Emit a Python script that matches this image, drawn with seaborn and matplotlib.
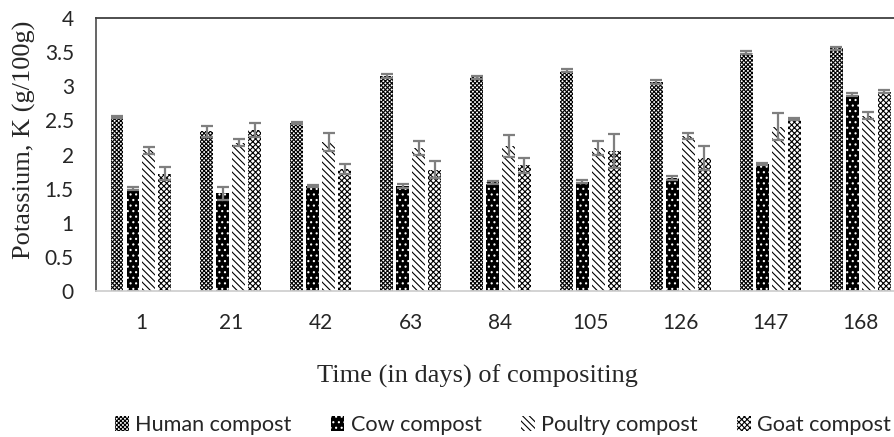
import matplotlib
matplotlib.use('Agg')
import matplotlib.pyplot as plt
import matplotlib.patches as mpatches
import seaborn as sns
import pandas as pd

days = ['1', '21', '42', '63', '84', '105', '126', '147', '168']
composts = ['Human compost', 'Cow compost', 'Poultry compost', 'Goat compost']

human = [2.55, 2.34, 2.46, 3.15, 3.13, 3.23, 3.06, 3.49, 3.555]
human_err = [0.02, 0.08, 0.02, 0.03, 0.02, 0.02, 0.025, 0.02, 0.02]
cow = [1.50, 1.43, 1.54, 1.54, 1.59, 1.60, 1.65, 1.86, 2.875]
cow_err = [0.02, 0.09, 0.02, 0.03, 0.02, 0.02, 0.03, 0.02, 0.02]
poultry = [2.06, 2.17, 2.18, 2.10, 2.13, 2.10, 2.27, 2.41, 2.57]
poultry_err = [0.05, 0.05, 0.13, 0.10, 0.16, 0.10, 0.05, 0.20, 0.05]
goat = [1.72, 2.36, 1.79, 1.78, 1.84, 2.05, 1.95, 2.52, 2.92]
goat_err = [0.09, 0.10, 0.07, 0.12, 0.11, 0.25, 0.17, 0.02, 0.02]

values = [human, cow, poultry, goat]
errors = [human_err, cow_err, poultry_err, goat_err]

rows = []
for name, vals in zip(composts, values):
    for d, v in zip(days, vals):
        rows.append({'day': d, 'compost': name, 'K': v})
df = pd.DataFrame(rows)

# look of each series: face, hatch colour, hatch
styles = {
    'Human compost': ('white', 'black', 'x' * 8),
    'Cow compost': ('black', 'white', '...'),
    'Poultry compost': ('white', 'black', '\\' * 5),
    'Goat compost': ('white', 'black', 'x' * 6),
}

sns.set_style('white')
plt.rcParams['font.family'] = ['Lato', 'DejaVu Sans']
plt.rcParams['hatch.linewidth'] = 0.8

fig = plt.figure(figsize=(8.94, 4.37), dpi=100)
ax = fig.add_axes([0.1074, 0.3341, 0.905, 0.6247])

sns.barplot(data=df, x='day', y='K', hue='compost', order=days,
            hue_order=composts, width=0.71, gap=0.19, errorbar=None,
            palette=['white'] * 4, legend=False, ax=ax)

for name, cont, errs in zip(composts, ax.containers, errors):
    face, hcol, hatch = styles[name]
    for bar in cont:
        bar.set_facecolor(face)
        bar.set_edgecolor(hcol)
        bar.set_hatch(hatch)
        bar.set_linewidth(0)
    xs = [b.get_x() + b.get_width() / 2 for b in cont]
    ys = [b.get_height() for b in cont]
    ax.errorbar(xs, ys, yerr=errs, fmt='none', ecolor='#7f7f7f',
                elinewidth=1.6, capsize=4.5, capthick=1.6, zorder=5)

ax.set_ylim(0, 4)
ax.set_yticks([0, 0.5, 1, 1.5, 2, 2.5, 3, 3.5, 4])
ax.set_yticklabels(['0', '0.5', '1', '1.5', '2', '2.5', '3', '3.5', '4'])
ax.set_xlim(-0.5, 8.5)
ax.tick_params(axis='y', length=0, pad=16, labelsize=15)
ax.tick_params(axis='x', length=0, pad=16, labelsize=15)

for s in ['top', 'left', 'bottom']:
    ax.spines[s].set_visible(True)
    ax.spines[s].set_linewidth(1.3)
ax.spines['top'].set_color('#404040')
ax.spines['left'].set_color('#595959')
ax.spines['bottom'].set_color('#d0d0d0')
ax.spines['right'].set_visible(False)

ax.set_xlabel('Time (in days) of compositing', family='Liberation Serif',
              fontsize=19)
ax.xaxis.set_label_coords(0.471, -0.311)
ax.xaxis.label.set_va('center')
ax.set_ylabel('Potassium, K (g/100g)', family='Liberation Serif', fontsize=19)
ax.yaxis.set_label_coords(-0.088, 0.553)
ax.yaxis.label.set_va('center')

handles = []
for name in composts:
    face, hcol, hatch = styles[name]
    handles.append(mpatches.Patch(facecolor=face, edgecolor=hcol,
                                  hatch=hatch, linewidth=0, label=name))
ax.legend(handles=handles, loc='center', bbox_to_anchor=(0.503, -0.491),
          ncol=4, frameon=False, fontsize=15.6, handlelength=0.64,
          handleheight=0.64, handletextpad=0.3, columnspacing=1.8)

fig.savefig('out.png', dpi=100)
